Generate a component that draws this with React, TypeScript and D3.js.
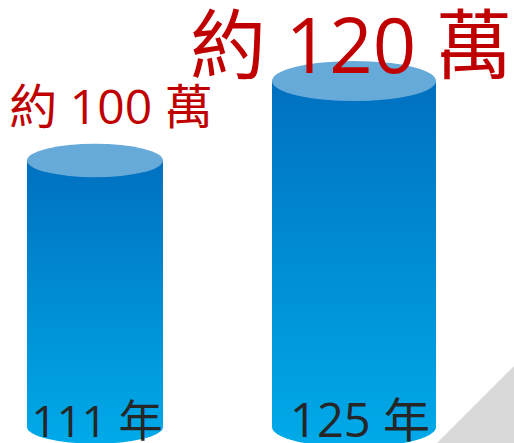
import React from "react";
import * as d3 from "d3";

const years = ["111 年", "125 年"];
const values = [100, 120];
const topLabels = ["約 100 萬", "約 120 萬"];

const W = 514;
const H = 443;

export default function App() {
  const x = d3.scalePoint<string>().domain(years).range([95, 354]);
  const y = d3.scaleLinear().domain([100, 120]).range([160.5, 81]);
  const w = d3.scaleLinear().domain([100, 120]).range([136, 164]);
  const baseY = 427;
  const labelFont = "'Open Sans', 'Noto Sans CJK TC', sans-serif";
  const topStyle = [
    { dx: 16, dy: -37, size: 48 },
    { dx: -3, dy: -8, size: 76 },
  ];
  const botStyle = [
    { dx: 2, size: 44 },
    { dx: 6, size: 47 },
  ];

  return (
    <svg
      width={W}
      height={H}
      style={{ position: "absolute", left: 0, top: 0, display: "block" }}
    >
      <defs>
        <linearGradient id="body" x1="0" y1="0" x2="0" y2="1">
          <stop offset="0" stopColor="#0070C0" />
          <stop offset="1" stopColor="#00AAE8" />
        </linearGradient>
      </defs>
      <rect width={W} height={H} fill="#ffffff" />
      <path d={`M437,${H} L${W},${H - 77} L${W},${H} Z`} fill="#D9D9D9" />
      {years.map((yr, i) => {
        const cx = x(yr)!;
        const rx = w(values[i]) / 2;
        const ry = rx * 0.245;
        const ty = y(values[i]);
        const d = `M${cx - rx},${ty} L${cx - rx},${baseY} A${rx},${ry} 0 0 0 ${cx + rx},${baseY} L${cx + rx},${ty} Z`;
        return (
          <g key={yr}>
            <path d={d} fill="url(#body)" />
            <ellipse cx={cx} cy={ty} rx={rx} ry={ry} fill="#66AADA" />
          </g>
        );
      })}
      {years.map((yr, i) => {
        const cx = x(yr)!;
        const ty = y(values[i]);
        const s = topStyle[i];
        return (
          <text
            key={"t" + yr}
            x={cx + s.dx}
            y={ty + s.dy}
            textAnchor="middle"
            fontFamily={labelFont}
            fontSize={s.size}
            fill="#C00000"
          >
            {topLabels[i]}
          </text>
        );
      })}
      {years.map((yr, i) => (
        <text
          key={"b" + yr}
          x={x(yr)! + botStyle[i].dx}
          y={437}
          textAnchor="middle"
          fontFamily={labelFont}
          fontSize={botStyle[i].size}
          fill="#262626"
        >
          {yr}
        </text>
      ))}
    </svg>
  );
}
